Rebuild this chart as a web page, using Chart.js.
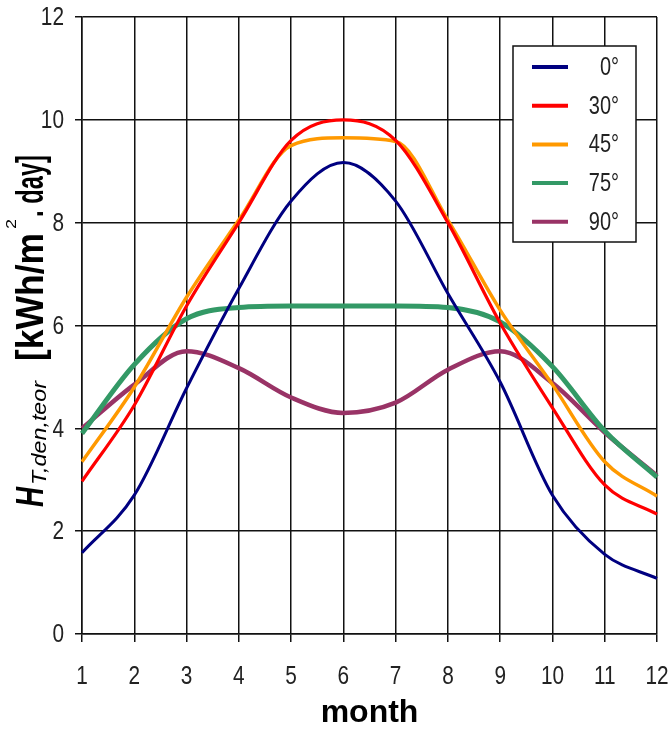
<!DOCTYPE html>
<html>
<head>
<meta charset="utf-8">
<script src="https://cdn.jsdelivr.net/npm/chart.js@4"></script>
<style>
  html, body { margin:0; padding:0; background:#fff; }
  #wrap { width:669px; height:734px; }
</style>
</head>
<body>
<div id="wrap"><canvas id="chart" width="669" height="734"></canvas></div>
<script>
// ---------- data ----------
const months = ['1','2','3','4','5','6','7','8','9','10','11','12'];
const tilt0  = [1.58, 2.70, 4.78, 6.72, 8.42, 9.17, 8.42, 6.62, 4.90, 2.70, 1.55, 1.08];
const tilt30 = [2.97, 4.45, 6.38, 8.00, 9.60, 10.00, 9.60, 8.00, 6.05, 4.40, 2.90, 2.33];
const tilt45 = [3.35, 4.80, 6.55, 8.05, 9.50, 9.65, 9.58, 8.05, 6.30, 4.85, 3.35, 2.68];
const tilt75 = [3.90, 5.24, 6.13, 6.35, 6.38, 6.38, 6.38, 6.35, 6.07, 5.20, 3.95, 3.05];
const tilt90 = [4.00, 4.85, 5.50, 5.17, 4.60, 4.30, 4.50, 5.14, 5.50, 4.88, 3.92, 3.08];
const seriesNames = ['0°', '30°', '45°', '75°', '90°'];
const yTicks = [0, 2, 4, 6, 8, 10, 12];

const baseFont = "'Liberation Sans', Arial, sans-serif";
const narrow = 0.8;   // squeeze factor for the tall, narrow digits

// y axis title drawn in pieces (subscript / superscript)
const yTitleParts = [
  {t:'H',          font:'italic bold 38px', from:507, to:487, dy:0},
  {t:'T,den,teor', font:'italic 20px',      from:485, to:381, dy:3},
  {t:'[kWh/m',     font:'bold 38px',        from:361, to:233, dy:0},
  {t:'2',          font:'15px',             from:229, to:219, dy:-27},
  {t:'. day]',     font:'bold 38px',        from:217, to:155, dy:0}
];

function narrowText(c, txt, x, y){
  c.save();
  c.translate(x, y);
  c.scale(narrow, 1);
  c.fillText(txt, 0, 0);
  c.restore();
}

const yTitlePlugin = {
  id:'yTitle',
  afterDraw(chart){
    const c = chart.ctx;
    c.save();
    c.fillStyle = '#000';
    c.textBaseline = 'alphabetic';
    c.textAlign = 'left';
    yTitleParts.forEach(p=>{
      c.font = p.font + ' ' + baseFont;
      const w = c.measureText(p.t).width;
      const len = p.from - p.to;
      c.save();
      c.translate(43, p.from);
      c.rotate(-Math.PI/2);
      c.scale(len / w, 1);
      c.fillText(p.t, 0, p.dy);
      c.restore();
    });
    c.restore();
  }
};

// tick labels, placed by the scales but drawn narrow
const tickLabelPlugin = {
  id:'tickLabels',
  afterDraw(chart){
    const c = chart.ctx, xs = chart.scales.x, ys = chart.scales.y;
    c.save();
    c.fillStyle = '#222';
    c.font = '26px ' + baseFont;
    c.textBaseline = 'middle';
    c.textAlign = 'right';
    ys.ticks.forEach(t=>{
      narrowText(c, String(t.value), ys.left + 64, ys.getPixelForValue(t.value) + 1);
    });
    c.textAlign = 'center';
    xs.ticks.forEach((t, i)=>{
      narrowText(c, months[i], xs.getPixelForTick(i), xs.top + 43);
    });
    c.restore();
  }
};

const legendPlugin = {
  id:'boxLegend',
  afterDraw(chart){
    const c = chart.ctx, a = chart.chartArea;
    const bx = a.right - 144, by = a.top + 29, bw = 123, bh = 196;
    c.save();
    c.fillStyle = '#fff';
    c.fillRect(bx, by, bw, bh);
    c.strokeStyle = '#111';
    c.lineWidth = 1.5;
    c.strokeRect(bx, by, bw, bh);
    c.font = '25px ' + baseFont;
    c.textAlign = 'right';
    c.textBaseline = 'middle';
    chart.data.datasets.forEach((ds, i)=>{
      const y = by + 21 + i*38.7;
      c.strokeStyle = ds.borderColor;
      c.lineWidth = 4;
      c.lineCap = 'butt';
      c.beginPath();
      c.moveTo(bx + 19, y);
      c.lineTo(bx + 55, y);
      c.stroke();
      c.fillStyle = '#222';
      narrowText(c, ds.label, bx + 106, y + 1);
    });
    c.restore();
  }
};

function line(label, data, color, width){
  return {
    label: label,
    data: data,
    borderColor: color,
    backgroundColor: color,
    borderWidth: width,
    pointRadius: 0,
    fill: false,
    cubicInterpolationMode: 'monotone'
  };
}

new Chart(document.getElementById('chart'), {
  type: 'line',
  data: {
    labels: months,
    datasets: [
      line(seriesNames[0], tilt0,  '#000080', 3),
      line(seriesNames[1], tilt30, '#ff0000', 3.2),
      line(seriesNames[2], tilt45, '#ff9900', 3.5),
      line(seriesNames[3], tilt75, '#339966', 5),
      line(seriesNames[4], tilt90, '#993366', 4.5)
    ]
  },
  options: {
    responsive: false,
    animation: false,
    layout: { padding: { top: 17, right: 12, left: 0, bottom: 0 } },
    plugins: { legend: { display:false }, tooltip: { enabled:false } },
    scales: {
      x: {
        offset: false,
        grid: { color:'#111', lineWidth:1.5, tickLength:8, drawTicks:true },
        border: { color:'#111', width:1.5 },
        ticks: { color:'rgba(0,0,0,0)', padding:8, maxRotation:0, font:{ family:baseFont, size:2 } },
        title: { display:true, text:'month', color:'#000', padding:{top:0, bottom:2},
                 font:{ family:baseFont, size:32, weight:'bold' } },
        afterFit: s => { s.height = 100; }
      },
      y: {
        min: 0, max: 12,
        afterBuildTicks: s => { s.ticks = yTicks.map(v => ({value:v})); },
        grid: { color:'#111', lineWidth:1.5, tickLength:7, drawTicks:true },
        border: { color:'#111', width:1.5 },
        ticks: { color:'rgba(0,0,0,0)', padding:12, font:{ family:baseFont, size:2 } },
        afterFit: s => { s.width = 82; }
      }
    }
  },
  plugins: [legendPlugin, tickLabelPlugin, yTitlePlugin]
});
</script>
</body>
</html>
